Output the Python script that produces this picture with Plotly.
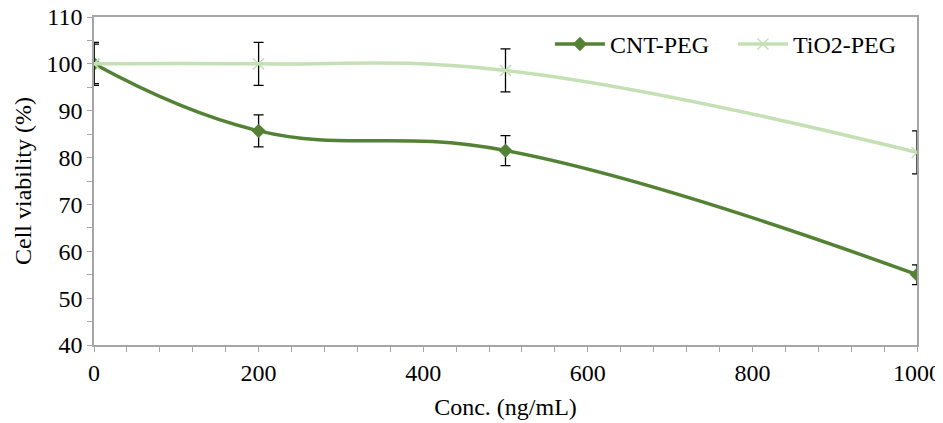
import plotly.graph_objects as go

conc = [0, 200, 500, 1000]
cnt_peg = [100.0, 85.7, 81.5, 55.0]
cnt_err = [4.2, 3.4, 3.2, 2.1]
tio2_peg = [100.0, 100.0, 98.6, 81.1]
tio2_err = [4.6, 4.6, 4.6, 4.6]

dark = "#548235"
light = "#C5E0B4"
font_family = "Liberation Serif, Times New Roman, serif"

fig = go.Figure()
fig.add_trace(go.Scatter(
    x=conc, y=cnt_peg, name="CNT-PEG", mode="lines+markers",
    line=dict(color=dark, width=3.5, shape="spline", smoothing=1.2),
    marker=dict(symbol="diamond", size=11, color=dark),
    error_y=dict(type="data", array=cnt_err, color="black", thickness=1.3, width=5),
))
fig.add_trace(go.Scatter(
    x=conc, y=tio2_peg, name="TiO2-PEG", mode="lines+markers",
    line=dict(color=light, width=3.5, shape="spline", smoothing=1.2),
    marker=dict(symbol="x-thin", size=11, color=light, line=dict(color=light, width=1.5)),
    error_y=dict(type="data", array=tio2_err, color="black", thickness=1.3, width=5),
))

fig.update_layout(
    width=935, height=415,
    margin=dict(l=86, r=26, t=9, b=78, autoexpand=False),
    paper_bgcolor="white", plot_bgcolor="white",
    font=dict(family=font_family, size=24, color="black"),
    legend=dict(orientation="h", x=0.554, xanchor="left", y=0.985, yanchor="top",
                font=dict(family=font_family, size=24), bgcolor="rgba(0,0,0,0)",
                itemwidth=50, entrywidth=118, tracegroupgap=0),
    showlegend=True,
)
fig.update_xaxes(
    range=[0, 1000], tickvals=[0, 200, 400, 600, 800, 1000],
    showgrid=False, zeroline=False, showline=True, linecolor="#A6A6A6", linewidth=1.5,
    mirror=True, ticks="outside", ticklen=5, tickcolor="#A6A6A6",
    minor=dict(dtick=40, ticks="outside", ticklen=5, tickcolor="#A6A6A6"),
    title=dict(text="Conc. (ng/mL)", font=dict(family=font_family, size=24), standoff=14),
    tickfont=dict(family=font_family, size=24), automargin=False,
    ticklabeloverflow="allow",
)
fig.update_yaxes(
    range=[40, 110], dtick=10,
    showgrid=False, zeroline=False, showline=True, linecolor="#A6A6A6", linewidth=1.5,
    mirror=True, ticks="outside", ticklen=5, tickcolor="#A6A6A6",
    minor=dict(dtick=5, ticks="outside", ticklen=5, tickcolor="#A6A6A6"),
    title=dict(text="Cell viability (%)", font=dict(family=font_family, size=24), standoff=8),
    tickfont=dict(family=font_family, size=24), automargin=False,
    ticklabeloverflow="allow",
)

fig.write_html("out.html")
